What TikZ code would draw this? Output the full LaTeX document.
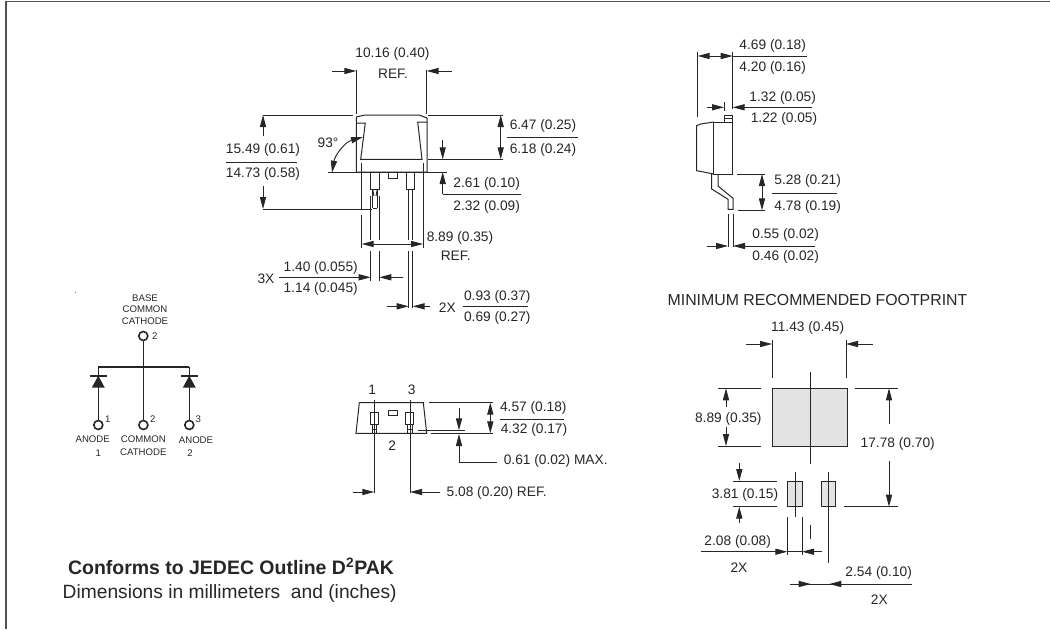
\documentclass[tikz,border=0pt]{standalone}
\usepackage{fontspec}
\setmainfont{Liberation Sans}
\usetikzlibrary{arrows.meta}
\definecolor{inkgray}{HTML}{262626}
\definecolor{padgray}{HTML}{E3E3E3}
\tikzset{
  dimtext/.style={inner sep=0pt,text=inkgray,font=\fontsize{10.3}{12}\selectfont},
  smalltext/.style={inner sep=0pt,text=inkgray,font=\fontsize{7.2}{9}\selectfont},
  outline/.style={draw=inkgray,line width=0.75pt},
  dimhead/.style={draw=inkgray,fill=inkgray,line width=0.7pt,-{Triangle[length=9pt,width=4.6pt]}},
  bothhead/.style={draw=inkgray,fill=inkgray,line width=0.7pt,{Triangle[length=9pt,width=4.6pt]}-{Triangle[length=9pt,width=4.6pt]}},
  dimline/.style={draw=inkgray,line width=0.7pt},
  wire/.style={draw=inkgray,line width=1.2pt},
}
\begin{document}
\begin{tikzpicture}[x=0.75pt,y=-0.75pt]
\useasboundingbox (0,0) rectangle (1050,629);
\draw[draw=inkgray!80,line width=1pt] (6,629) -- (6,1.5) -- (1050,1.5);
% front view
\draw[outline] (356.3,117) -- (365,115) -- (419,115) -- (427,118) -- (427,172) -- (356.3,172) -- cycle;
\draw[outline] (356.3,123) -- (365.3,123) -- (360.7,159.3) -- (422,159.3) -- (417.7,122) -- (427,122);
\draw[outline] (388.3,172) rectangle (397.3,178);
\draw[outline] (370.7,172) rectangle (379.3,189);
\draw[outline] (406.7,172) rectangle (414.7,189);
\draw[dimline] (372.7,189) -- (372.7,208) (377.3,189) -- (377.3,208) (372.7,208) -- (377.3,208);
\draw[dimline] (408.7,189) -- (408.7,208) (412.7,189) -- (412.7,208);
\draw[dimline] (372.7,189) -- (374,196) (377.3,189) -- (376,196);
\draw[dimline] (327.7,172) -- (446.7,172);
\node[dimtext] (wlabel) at (392.5,54) {10.16 (0.40)};
\node[dimtext] (wref) at (393,74) {REF.};
\draw[dimline] (356.3,70) -- (356.3,114);
\draw[dimline] (426.7,70) -- (426.7,114);
\draw[dimhead] (332,71) -- (356.3,71);
\draw[dimhead] (452,71) -- (426.7,71);
\draw[dimline] (263,115) -- (353,115);
\draw[dimline] (428,115) -- (503,115);
\draw[dimline] (428,159.3) -- (503,159.3);
\draw[dimhead] (263,136) -- (263,115);
\node[dimtext] (hlabela) at (263,150) {15.49 (0.61)};
\draw[dimline] (226,162) -- (297,162);
\node[dimtext] (hlabelb) at (263,174) {14.73 (0.58)};
\draw[dimhead] (263,186) -- (263,209);
\draw[dimline] (263,209) -- (372,209);
\draw[bothhead,fill=none] (363,137) .. controls (345,142) and (335,155) .. (332,172.7);
\node[dimtext] (angle) at (328,143) {93°};
\draw[bothhead] (500.7,115) -- (500.7,159.3);
\node[dimtext] (tlabela) at (543,126) {6.47 (0.25)};
\draw[dimline] (507,137) -- (578,137);
\node[dimtext] (tlabelb) at (543,150) {6.18 (0.24)};
\draw[dimhead] (442.7,140) -- (442.7,159.3);
\draw[dimhead] (442.7,194) -- (442.7,172);
\draw[dimline] (442.7,194) -- (520.7,194);
\node[dimtext] (slabela) at (486.7,184) {2.61 (0.10)};
\node[dimtext] (slabelb) at (486.7,207.3) {2.32 (0.09)};
\draw[dimline] (361.7,163) -- (361.7,210) (361.7,215) -- (361.7,248);
\draw[dimline] (423,163) -- (423,248);
\foreach \i in {370.7,379.3} \draw[dimline] (\i,196) -- (\i,240) (\i,251) -- (\i,281);
\foreach \i in {408.7,412.7} \draw[dimline] (\i,196) -- (\i,240) (\i,251) -- (\i,308);
\draw[bothhead] (361.7,244) -- (423,244);
\node[dimtext] (blabela) at (460,238) {8.89 (0.35)};
\node[dimtext] (blabelb) at (455.7,255.7) {REF.};
\draw[dimhead] (279.3,277.3) -- (370.7,277.3);
\draw[dimhead] (403.3,277.3) -- (379.3,277.3);
\node[dimtext] (threex) at (266,279) {3X};
\node[dimtext] (llabela) at (320.7,267.7) {1.40 (0.055)};
\node[dimtext] (llabelb) at (320.7,289.3) {1.14 (0.045)};
\draw[dimhead] (387.3,306.3) -- (408.7,306.3);
\draw[dimhead] (430,306.3) -- (412.7,306.3);
\node[dimtext] (twox) at (447.3,307.7) {2X};
\node[dimtext] (plabela) at (497.3,296.7) {0.93 (0.37)};
\draw[dimline] (463.3,306.3) -- (528.3,306.3);
\node[dimtext] (plabelb) at (497.3,318.3) {0.69 (0.27)};
% side view
\draw[outline] (713.7,122) rectangle (732.7,174);
\draw[outline] (713.7,122) -- (700.7,124) -- (696.7,125.7) -- (696.7,170.7) -- (713.7,174);
\draw[outline] (724.3,115.7) rectangle (732.7,122);
\draw[dimline] (724.3,118.7) -- (732.7,118.7);
\draw[outline] (711.7,174) -- (711.7,189) -- (728,199.3) -- (728,209.3) -- (733,209.3) -- (733,198.3) -- (718,186) -- (718,174);
\node[dimtext] (dlabela) at (772.7,46) {4.69 (0.18)};
\node[dimtext] (dlabelb) at (772.7,68.3) {4.20 (0.16)};
\draw[dimline] (697.7,51.7) -- (697.7,117);
\draw[dimline] (732.7,51.7) -- (732.7,109);
\draw[dimline] (732.7,56) -- (806.7,56);
\draw[bothhead] (697.7,56) -- (732.7,56);
\node[dimtext] (clabela) at (782.7,97.7) {1.32 (0.05)};
\node[dimtext] (clabelb) at (784,119.3) {1.22 (0.05)};
\draw[dimline] (724,102.3) -- (724,111);
\draw[dimhead] (706.7,107.3) -- (724,107.3);
\draw[dimhead] (811.7,107.3) -- (732.7,107.3);
\draw[dimline] (737.3,174) -- (765,174);
\draw[dimline] (738.3,210.3) -- (765,210.3);
\draw[bothhead] (762,174) -- (762,210.3);
\node[dimtext] (rlabela) at (807.7,180.7) {5.28 (0.21)};
\draw[dimline] (771.7,193) -- (836.7,193);
\node[dimtext] (rlabelb) at (807.7,206.7) {4.78 (0.19)};
\draw[dimline] (728,214.3) -- (728,247.3);
\draw[dimline] (733,214.3) -- (733,247.3);
\draw[dimhead] (706.7,246) -- (728,246);
\draw[dimhead] (815,246) -- (733,246);
\node[dimtext] (klabela) at (785.7,235) {0.55 (0.02)};
\node[dimtext] (klabelb) at (785.7,257.3) {0.46 (0.02)};
% footprint
\node[dimtext,font=\fontsize{11.9}{14}\selectfont] (foottitle) at (817.5,300) {MINIMUM RECOMMENDED FOOTPRINT};
\draw[outline,fill=padgray] (772,388.3) rectangle (847.7,446);
\draw[outline,fill=padgray] (787,481) rectangle (802.3,506.7);
\draw[outline,fill=padgray] (821.3,481) rectangle (835.7,506.7);
\draw[dimline] (810.7,371.7) -- (810.7,464);
\draw[dimline] (810.7,525) -- (810.7,539);
\draw[dimline] (795,471.7) -- (795,517.3);
\draw[dimline] (828.7,471.7) -- (828.7,563.3);
\node[dimtext] (glabel) at (807.7,328.3) {11.43 (0.45)};
\draw[dimline] (772,340) -- (772,378.3);
\draw[dimline] (846,340) -- (846,378.3);
\draw[dimhead] (746,344) -- (772,344);
\draw[dimhead] (872.7,344) -- (846,344);
\draw[dimline] (718.3,388.3) -- (761,388.3);
\draw[dimline] (718.3,446) -- (761,446);
\draw[dimhead] (726,406.7) -- (726,388.3);
\draw[dimhead] (726,427.3) -- (726,446);
\node[dimtext] (ulabel) at (728.3,419.3) {8.89 (0.35)};
\draw[dimline] (855,388.3) -- (898.3,388.3);
\draw[dimline] (844,506.7) -- (898.3,506.7);
\draw[dimhead] (889,424) -- (889,388.3);
\draw[dimhead] (889,461) -- (889,506.7);
\node[dimtext] (vlabel) at (897.7,444.3) {17.78 (0.70)};
\draw[dimline] (733.3,481) -- (776.7,481);
\draw[dimline] (733.3,506.7) -- (776.7,506.7);
\draw[dimhead] (739.3,463.3) -- (739.3,481);
\draw[dimhead] (739.3,523.3) -- (739.3,506.7);
\node[dimtext] (qlabel) at (745,495) {3.81 (0.15)};
\draw[dimline] (787.3,517.3) -- (787.3,555);
\draw[dimline] (802,517.3) -- (802,555);
\draw[dimhead] (701,551.7) -- (787.3,551.7);
\draw[dimhead] (821.7,551.7) -- (802,551.7);
\draw[dimline] (787.3,551.7) -- (802,551.7);
\node[dimtext] (mlabel) at (737.7,541.7) {2.08 (0.08)};
\node[dimtext] (mcount) at (739,567.3) {2X};
\draw[dimhead] (790,584) -- (810.7,584);
\draw[dimhead] (912.3,584) -- (829.3,584);
\draw[dimline] (790,584) -- (912.3,584);
\node[dimtext] (plabel) at (878.7,573.3) {2.54 (0.10)};
\node[dimtext] (pcount) at (879.3,600) {2X};
% schematic
\fill[inkgray] (75.7,292.3) circle (0.5);
\node[smalltext] (base) at (145,298.3) {BASE};
\node[smalltext] (common) at (145,309.3) {COMMON};
\node[smalltext] (cathode) at (145,320.7) {CATHODE};
\draw[wire] (143.3,340.5) -- (143.3,420.5);
\draw[wire] (98.3,366.7) -- (189.3,366.7);
\foreach \i/\j in {98.3/8.3,189.3/8.3} {
  \draw[wire] (\i,366.7) -- (\i,420.5);
  \draw[wire] (\i-\j,375.7) -- (\i+\j,375.7);
  \fill[inkgray] (\i,375.7) -- (\i-6.5,387.7) -- (\i+6.5,387.7) -- cycle;
}
\foreach \i/\j in {143.3/336,98.3/425,143.4/425,189.3/425}
  \draw[wire] (\i,\j) circle (4.5);
\node[smalltext] (ntop) at (154.7,336) {2};
\node[smalltext] (none) at (107.7,419) {1};
\node[smalltext] (ntwo) at (152.7,419) {2};
\node[smalltext] (nthree) at (198.3,419) {3};
\node[smalltext] (anodea) at (92.7,439.3) {ANODE};
\node[smalltext] (anodeanum) at (98.3,452.7) {1};
\node[smalltext] (commonb) at (143.3,439) {COMMON};
\node[smalltext] (cathodeb) at (143.3,451.7) {CATHODE};
\node[smalltext] (anodeb) at (196,440) {ANODE};
\node[smalltext] (anodebnum) at (190,452.7) {2};
% bottom view
\draw[outline] (359.3,402.7) -- (423.3,402.7) -- (426.7,433.3) -- (356,433.3) -- cycle;
\draw[outline] (388.3,410.7) rectangle (397.7,415);
\foreach \i in {370.3,405.7} {
  \draw[outline] (\i,412.3) rectangle (\i+8,424.3);
  \draw[dimline] (\i+2,424.3) -- (\i+2,433.3) (\i+6.5,424.3) -- (\i+6.5,433.3) (\i+2,429) -- (\i+6.5,429);
}
\draw[dimline] (374.3,400) -- (374.3,493.3);
\draw[dimline] (410,400) -- (410,493.3);
\node[dimtext] (pina) at (372.3,389.3) {1};
\node[dimtext] (pinc) at (411.7,389.3) {3};
\node[dimtext] (pinb) at (392.3,445.7) {2};
\draw[dimhead] (352.7,492) -- (374.3,492);
\draw[dimhead] (440,492) -- (410,492);
\node[dimtext] (elabel) at (496.7,492.7) {5.08 (0.20) REF.};
\draw[dimline] (429,402.7) -- (493.3,402.7);
\draw[dimline] (430.7,433.3) -- (493.3,433.3);
\draw[bothhead] (490.3,402.7) -- (490.3,433.3);
\node[dimtext] (alabela) at (533.3,408.3) {4.57 (0.18)};
\draw[dimline] (500,419) -- (564,419);
\node[dimtext] (alabelb) at (534,430) {4.32 (0.17)};
\draw[dimline] (418.3,430.3) -- (465,430.3);
\draw[dimhead] (459,408.3) -- (459,430.3);
\draw[dimhead] (459,462.3) -- (459,434);
\draw[dimline] (459,462.3) -- (497.3,462.3);
\node[dimtext] (flabel) at (555.7,460.7) {0.61 (0.02) MAX.};
% notes
\node[inner sep=0pt,text=inkgray,font=\fontsize{14.6}{17}\selectfont\bfseries] (conforms) at (231,566) {Conforms to JEDEC Outline D\textsuperscript{2}PAK};
\node[inner sep=0pt,text=inkgray,font=\fontsize{14.4}{17}\selectfont] (units) at (229.7,593.5) {Dimensions in millimeters\ \ and (inches)};
\end{tikzpicture}
\end{document}
